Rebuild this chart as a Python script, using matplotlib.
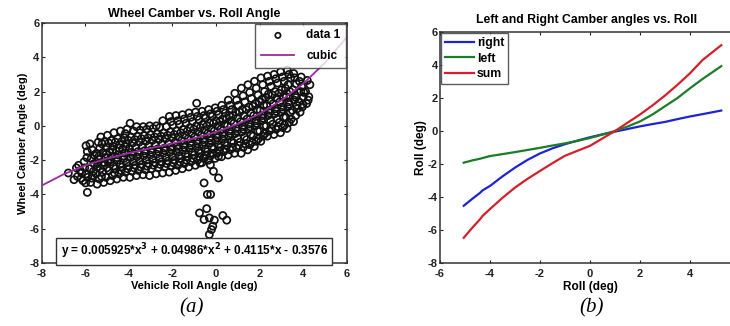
import numpy as np
import matplotlib
matplotlib.use("Agg")
import matplotlib.pyplot as plt

plt.rcParams['font.family'] = ['Liberation Sans', 'DejaVu Sans']
plt.rcParams['font.weight'] = 'bold'
plt.rcParams['axes.labelweight'] = 'bold'
plt.rcParams['axes.unicode_minus'] = False

scatter_pts = [
    (-6.35, -2.95), (-6.22, -2.6), (-6.3, -2.3), (-6.18, -3.05), (-6.4, -2.45),
    (-6.77, -2.75), (-6.51, -3.14), (-6.16, -2.75), (-5.96, -1.16), (-5.9, -3.88), (-5.98, -3.33),
    (-6.05, -2.1), (-5.95, -2.8), (-6.1, -3.2), (-5.9, -1.5), (-6.02, -2.45), (-5.88, -3.0), (-5.92, -1.85),
    (-5.75, -3.3), (-5.65, -2.9), (-5.8, -2.5), (-5.6, -2.2), (-5.72, -1.9), (-5.68, -1.4), (-5.78, -1.05),
    (-5.62, -2.65), (-5.7, -3.05), (-5.58, -1.7),
    (-5.45, -3.4), (-5.35, -3.1), (-5.5, -2.8), (-5.3, -2.5), (-5.42, -2.2), (-5.38, -1.95), (-5.48, -1.6),
    (-5.33, -1.3), (-5.4, -0.95), (-5.28, -0.65), (-5.46, -2.4), (-5.36, -1.75), (-5.25, -2.95),
    (-5.15, -3.3), (-5.05, -3.0), (-5.2, -2.7), (-5.0, -2.45), (-5.12, -2.15), (-5.08, -1.85), (-5.18, -1.55),
    (-5.02, -1.25), (-5.1, -0.9), (-4.98, -0.55), (-5.14, -2.3), (-5.04, -1.65), (-4.96, -2.05), (-5.22, -1.05),
    (-4.85, -3.2), (-4.75, -2.9), (-4.9, -2.6), (-4.7, -2.35), (-4.82, -2.1), (-4.78, -1.8), (-4.88, -1.5),
    (-4.72, -1.2), (-4.8, -0.85), (-4.68, -0.4), (-4.84, -1.95), (-4.74, -1.4), (-4.66, -2.75), (-4.92, -1.0),
    (-4.55, -3.1), (-4.45, -2.8), (-4.6, -2.5), (-4.4, -2.25), (-4.52, -2.0), (-4.48, -1.7), (-4.58, -1.45),
    (-4.42, -1.1), (-4.5, -0.75), (-4.38, -0.3), (-4.54, -1.85), (-4.44, -1.3), (-4.36, -2.6), (-4.62, -0.95),
    (-4.25, -3.0), (-4.15, -2.7), (-4.3, -2.4), (-4.1, -2.15), (-4.22, -1.9), (-4.18, -1.6), (-4.28, -1.35),
    (-4.12, -1.05), (-4.2, -0.7), (-4.08, -0.2), (-4.24, -1.75), (-4.14, -1.2), (-4.06, -2.5), (-4.32, -0.9),
    (-4.16, -0.45),
    (-3.95, -3.0), (-3.85, -2.65), (-4.0, -2.35), (-3.8, -2.1), (-3.92, -1.85), (-3.88, -1.55), (-3.98, -1.3),
    (-3.82, -1.0), (-3.9, -0.65), (-3.78, -0.3), (-3.94, 0.15), (-3.84, -1.7), (-3.76, -2.45), (-4.02, -0.85),
    (-3.65, -2.9), (-3.55, -2.6), (-3.7, -2.3), (-3.5, -2.05), (-3.62, -1.8), (-3.58, -1.5), (-3.68, -1.25),
    (-3.52, -0.95), (-3.6, -0.6), (-3.48, -0.25), (-3.64, -0.05), (-3.54, -1.65), (-3.46, -2.4), (-3.72, -0.8),
    (-3.35, -2.85), (-3.25, -2.55), (-3.4, -2.25), (-3.2, -2.0), (-3.32, -1.75), (-3.28, -1.45), (-3.38, -1.2),
    (-3.22, -0.9), (-3.3, -0.55), (-3.18, -0.2), (-3.34, -0.05), (-3.24, -1.6), (-3.16, -2.35), (-3.42, -0.75),
    (-3.05, -2.9), (-2.95, -2.5), (-3.1, -2.2), (-2.9, -1.95), (-3.02, -1.7), (-2.98, -1.4), (-3.08, -1.15),
    (-2.92, -0.85), (-3.0, -0.5), (-2.88, -0.15), (-3.04, 0.0), (-2.94, -1.55), (-2.86, -2.3), (-3.12, -0.7),
    (-2.75, -2.8), (-2.65, -2.45), (-2.8, -2.15), (-2.6, -1.9), (-2.72, -1.65), (-2.68, -1.35), (-2.78, -1.1),
    (-2.62, -0.8), (-2.7, -0.45), (-2.58, -0.1), (-2.74, 0.0), (-2.64, -1.5), (-2.56, -2.25), (-2.82, -0.65),
    (-2.45, -2.75), (-2.35, -2.4), (-2.5, -2.1), (-2.3, -1.85), (-2.42, -1.6), (-2.38, -1.3), (-2.48, -1.05),
    (-2.32, -0.75), (-2.4, -0.4), (-2.28, -0.05), (-2.44, 0.3), (-2.34, -1.45), (-2.26, -2.2), (-2.52, -0.6),
    (-2.15, -2.7), (-2.05, -2.35), (-2.2, -2.05), (-2.0, -1.8), (-2.12, -1.55), (-2.08, -1.25), (-2.18, -1.0),
    (-2.02, -0.7), (-2.1, -0.35), (-1.98, 0.05), (-2.14, 0.55), (-2.04, -1.4), (-1.96, -2.15), (-2.22, -0.55),
    (-2.06, 0.25),
    (-1.85, -2.6), (-1.75, -2.3), (-1.9, -2.0), (-1.7, -1.75), (-1.82, -1.5), (-1.78, -1.2), (-1.88, -0.95),
    (-1.72, -0.65), (-1.8, -0.3), (-1.68, 0.1), (-1.84, 0.6), (-1.74, -1.35), (-1.66, -2.1), (-1.92, -0.5),
    (-1.76, 0.3),
    (-1.55, -2.5), (-1.45, -2.2), (-1.6, -1.9), (-1.4, -1.65), (-1.52, -1.4), (-1.48, -1.1), (-1.58, -0.85),
    (-1.42, -0.55), (-1.5, -0.2), (-1.38, 0.15), (-1.54, 0.65), (-1.44, -1.25), (-1.36, -2.0), (-1.62, -0.4),
    (-1.46, 0.4),
    (-1.25, -2.4), (-1.15, -2.1), (-1.3, -1.8), (-1.1, -1.55), (-1.22, -1.3), (-1.18, -1.0), (-1.28, -0.75),
    (-1.12, -0.45), (-1.2, -0.1), (-1.08, 0.25), (-1.24, 0.75), (-1.14, -1.15), (-1.06, -1.9), (-1.32, -0.3),
    (-1.16, 0.5), (-0.89, 1.32),
    (-0.95, -2.3), (-0.85, -2.0), (-1.0, -1.7), (-0.8, -1.45), (-0.92, -1.2), (-0.88, -0.9), (-0.98, -0.65),
    (-0.82, -0.35), (-0.9, 0.0), (-0.78, 0.35), (-0.94, 0.8), (-0.84, -1.05), (-0.76, -1.8), (-1.02, -0.2),
    (-0.86, 0.55),
    (-0.65, -2.15), (-0.55, -1.9), (-0.7, -1.6), (-0.5, -1.35), (-0.62, -1.1), (-0.58, -0.8), (-0.68, -0.55),
    (-0.52, -0.25), (-0.6, 0.1), (-0.48, 0.45), (-0.64, 0.85), (-0.54, -0.95), (-0.46, -1.7), (-0.72, -0.1),
    (-0.56, 0.6),
    (-0.35, -2.0), (-0.25, -1.75), (-0.4, -1.5), (-0.2, -1.25), (-0.32, -1.0), (-0.28, -0.7), (-0.38, -0.45),
    (-0.22, -0.15), (-0.3, 0.2), (-0.18, 0.55), (-0.34, 0.95), (-0.24, -0.85), (-0.16, -1.6), (-0.42, 0.0),
    (-0.26, 0.7),
    (-0.05, -1.9), (0.05, -1.6), (-0.1, -1.35), (0.1, -1.1), (-0.02, -0.85), (0.02, -0.55), (-0.08, -0.3),
    (0.08, 0.0), (0.0, 0.3), (0.12, 0.65), (-0.04, 1.05), (0.06, -0.7), (0.14, -1.45), (-0.12, 0.15),
    (0.04, 0.85),
    (0.25, -1.8), (0.35, -1.5), (0.2, -1.25), (0.4, -1.0), (0.28, -0.75), (0.32, -0.45), (0.22, -0.2),
    (0.38, 0.1), (0.3, 0.4), (0.42, 0.75), (0.26, 1.2), (0.36, -0.6), (0.44, -1.35), (0.18, 0.25),
    (0.34, 0.95),
    (0.55, -1.7), (0.65, -1.4), (0.5, -1.15), (0.7, -0.9), (0.58, -0.6), (0.62, -0.3), (0.52, 0.0),
    (0.68, 0.3), (0.6, 0.6), (0.72, 0.95), (0.56, 1.5), (0.66, -0.45), (0.74, -1.25), (0.48, 0.45),
    (0.64, 1.2),
    (0.85, -1.6), (0.95, -1.3), (0.8, -1.0), (1.0, -0.75), (0.88, -0.45), (0.92, -0.15), (0.82, 0.15),
    (0.98, 0.45), (0.9, 0.8), (1.02, 1.2), (0.86, 1.9), (0.96, -0.3), (1.04, -1.15), (0.78, 0.6),
    (0.94, 1.5),
    (1.15, -1.6), (1.25, -1.25), (1.1, -0.95), (1.3, -0.65), (1.18, -0.35), (1.22, -0.05), (1.12, 0.25),
    (1.28, 0.6), (1.2, 0.95), (1.32, 1.4), (1.16, 2.2), (1.26, -0.2), (1.34, -1.05), (1.08, 0.8),
    (1.24, 1.75),
    (1.45, -1.4), (1.55, -1.1), (1.4, -0.8), (1.6, -0.5), (1.48, -0.2), (1.52, 0.1), (1.42, 0.4),
    (1.58, 0.75), (1.5, 1.1), (1.62, 1.6), (1.46, 2.4), (1.56, -0.05), (1.64, -0.95), (1.38, 0.95),
    (1.54, 1.95),
    (1.75, -1.2), (1.85, -0.9), (1.7, -0.6), (1.9, -0.3), (1.78, 0.0), (1.82, 0.3), (1.72, 0.6),
    (1.88, 0.95), (1.8, 1.3), (1.92, 1.8), (1.76, 2.6), (1.86, 0.15), (1.94, -0.75), (1.68, 1.15),
    (1.84, 2.2),
    (2.05, -0.9), (2.15, -0.6), (2.0, -0.3), (2.2, 0.0), (2.08, 0.3), (2.12, 0.6), (2.02, 0.9),
    (2.18, 1.2), (2.1, 1.55), (2.22, 2.0), (2.06, 2.8), (2.16, 0.45), (2.24, -0.45), (1.98, 1.4),
    (2.14, 2.4),
    (2.35, -0.6), (2.45, -0.3), (2.3, 0.0), (2.5, 0.3), (2.38, 0.6), (2.42, 0.9), (2.32, 1.2),
    (2.48, 1.5), (2.4, 1.85), (2.52, 2.3), (2.36, 2.9), (2.46, 0.75), (2.54, -0.15), (2.28, 1.65),
    (2.44, 2.6),
    (2.65, -0.5), (2.75, -0.2), (2.6, 0.1), (2.8, 0.4), (2.68, 0.7), (2.72, 1.0), (2.62, 1.3),
    (2.78, 1.6), (2.7, 2.0), (2.82, 2.5), (2.66, 3.0), (2.76, 0.85), (2.84, -0.05), (2.58, 1.8),
    (2.74, 2.75),
    (2.95, -0.4), (3.05, -0.1), (2.9, 0.2), (3.1, 0.5), (2.98, 0.8), (3.02, 1.1), (2.92, 1.4),
    (3.08, 1.7), (3.0, 2.1), (3.12, 2.6), (2.96, 3.15), (3.06, 0.95), (3.14, 0.05), (2.88, 1.9),
    (3.04, 2.85),
    (3.25, -0.15), (3.35, 0.2), (3.2, 0.5), (3.4, 0.8), (3.28, 1.1), (3.32, 1.4), (3.22, 1.7),
    (3.38, 2.0), (3.3, 2.4), (3.42, 2.8), (3.26, 3.25), (3.36, 1.25), (3.44, 0.4), (3.18, 2.2),
    (3.34, 3.0),
    (3.55, 0.25), (3.65, 0.6), (3.5, 0.9), (3.7, 1.2), (3.58, 1.5), (3.62, 1.8), (3.52, 2.1),
    (3.68, 2.45), (3.6, 2.8), (3.72, 1.0), (3.56, 3.05), (3.66, 1.65),
    (3.85, 0.8), (3.95, 1.1), (3.8, 1.4), (4.0, 1.7), (3.88, 2.0), (3.92, 2.3), (3.82, 2.6),
    (3.98, 1.25), (3.9, 2.85), (4.02, 1.95),
    (4.15, 1.3), (4.25, 1.7), (4.1, 2.0), (4.3, 2.4), (4.18, 2.65), (4.22, 1.5),
    # stray points below the band
    (-0.73, -2.17), (-0.26, -2.27), (-0.12, -2.65), (0.11, -3.04), (0.11, -1.78), (-0.58, -1.88),
    (-0.55, -3.33), (-0.4, -4.0), (-0.25, -4.0), (-0.76, -5.08), (-0.43, -4.83), (-0.55, -5.47),
    (-0.31, -5.37), (-0.08, -5.5), (-0.15, -5.85), (-0.31, -6.34), (-0.21, -6.05), (0.31, -5.23),
    (0.49, -5.5),
]
roll_angle = np.array([p[0] for p in scatter_pts])
camber_angle = np.array([p[1] for p in scatter_pts])

# cubic fit line
fit_x = [-8, -7, -6, -5, -4, -3, -2, -1, 0, 1, 2, 3, 4, 5, 6]
fit_y = [-3.49, -2.83, -2.31, -1.91, -1.59, -1.30, -1.03, -0.73, -0.36, 0.11, 0.71, 1.49, 2.47, 3.69, 5.19]
fit_label = "y = 0.005925*x$^3$ + 0.04986*x$^2$ + 0.4115*x - 0.3576"

# (b) left / right camber vs roll
roll_b = [-5.05, -4.7, -4.4, -4.3, -4.0, -3.5, -3.0, -2.5, -2.0, -1.5, -1.0, -0.5, 0.0,
          0.5, 1.0, 1.5, 2.0, 2.5, 3.0, 3.5, 4.0, 4.5, 5.25]
right_b = [-4.53, -4.1, -3.75, -3.6, -3.33, -2.75, -2.22, -1.75, -1.36, -1.05, -0.8, -0.58, -0.38,
           -0.2, -0.04, 0.12, 0.28, 0.42, 0.55, 0.72, 0.88, 1.02, 1.24]
left_b = [-1.92, -1.78, -1.68, -1.64, -1.52, -1.4, -1.28, -1.15, -1.02, -0.88, -0.75, -0.6, -0.42,
          -0.22, 0.0, 0.27, 0.58, 1.0, 1.5, 2.0, 2.59, 3.15, 3.93]
sum_b = [-6.47, -5.85, -5.35, -5.15, -4.73, -4.05, -3.43, -2.9, -2.42, -1.95, -1.5, -1.2, -0.9,
         -0.45, 0.0, 0.5, 1.0, 1.55, 2.15, 2.8, 3.5, 4.3, 5.2]

fig = plt.figure(figsize=(7.3, 3.26), dpi=100)
ax1 = fig.add_axes([41.5 / 730, 63 / 326, 305.5 / 730, 240 / 326])
ax2 = fig.add_axes([440 / 730, 63 / 326, 300 / 730, 231 / 326])

fs = 8
for ax in (ax1, ax2):
    ax.tick_params(direction='in', length=2.5, width=0.8, top=True, right=True,
                   labelsize=fs, colors='#222222')
    ax.tick_params(axis='x', pad=4.5)
    ax.tick_params(axis='y', pad=1.5)
    for s in ax.spines.values():
        s.set_linewidth(1.1)
        s.set_color('#333333')

# (a)
ax1.scatter(roll_angle, camber_angle, s=26, facecolors='none', edgecolors='#111111',
            linewidths=1.25, label='data 1', zorder=2)
ax1.plot(fit_x, fit_y, color='#9a2c9e', lw=1.3, label='cubic', zorder=3)
ax1.set_xlim(-8, 6)
ax1.set_ylim(-8, 6)
ax1.set_xticks(range(-8, 7, 2))
ax1.set_yticks(range(-8, 7, 2))
ax1.set_xlabel('Vehicle Roll Angle (deg)', fontsize=8, labelpad=1.5)
ax1.set_ylabel('Wheel Camber Angle (deg)', fontsize=8, labelpad=1)
ax1.set_title('Wheel Camber vs. Roll Angle', fontsize=9, fontweight='bold', pad=4)
ax1.text(0.5, 0.048, fit_label, transform=ax1.transAxes, ha='center', va='center',
         fontsize=8.5, fontweight='bold',
         bbox=dict(boxstyle='square,pad=0.35', fc='white', ec='#333333', lw=1.0), zorder=5)
leg1 = ax1.legend(loc='upper right', fontsize=8.5, frameon=True, fancybox=False,
                  borderaxespad=0.05, handlelength=2.8, borderpad=0.5, labelspacing=0.7,
                  handletextpad=1.0, markerscale=0.75)
leg1.get_frame().set_edgecolor('#333333')
leg1.get_frame().set_linewidth(1.0)

# (b)
ax2.plot(roll_b, right_b, color='#1f23d6', lw=1.6, label='right')
ax2.plot(roll_b, left_b, color='#1b7d27', lw=1.6, label='left')
ax2.plot(roll_b, sum_b, color='#d4202b', lw=1.6, label='sum')
ax2.set_xlim(-6, 6)
ax2.set_ylim(-8, 6)
ax2.set_xticks(range(-6, 5, 2))
ax2.set_yticks(range(-8, 7, 2))
ax2.set_xlabel('Roll (deg)', fontsize=8.5, labelpad=1.5)
ax2.set_ylabel('Roll (deg)', fontsize=8.5, labelpad=1)
fig.text(587 / 730, 1 - 20 / 326, 'Left and Right Camber angles vs. Roll', ha='center',
         va='center', fontsize=8.8, fontweight='bold')
leg2 = ax2.legend(loc='upper left', fontsize=8.8, frameon=True, fancybox=False,
                  borderaxespad=0.1, handlelength=2.4, handletextpad=0.2, borderpad=0.3,
                  labelspacing=0.3)
leg2.get_frame().set_edgecolor('#333333')
leg2.get_frame().set_linewidth(1.0)

for ax in (ax1, ax2):
    for lab in ax.get_xticklabels() + ax.get_yticklabels():
        lab.set_fontweight('bold')

# panel captions
fig.text(192 / 730, 1 - 308 / 326, '(a)', ha='center', va='center', fontsize=15,
         family='Liberation Serif', style='italic', fontweight='normal')
fig.text(592 / 730, 1 - 308 / 326, '(b)', ha='center', va='center', fontsize=15,
         family='Liberation Serif', style='italic', fontweight='normal')

fig.savefig('out.png', dpi=100)
